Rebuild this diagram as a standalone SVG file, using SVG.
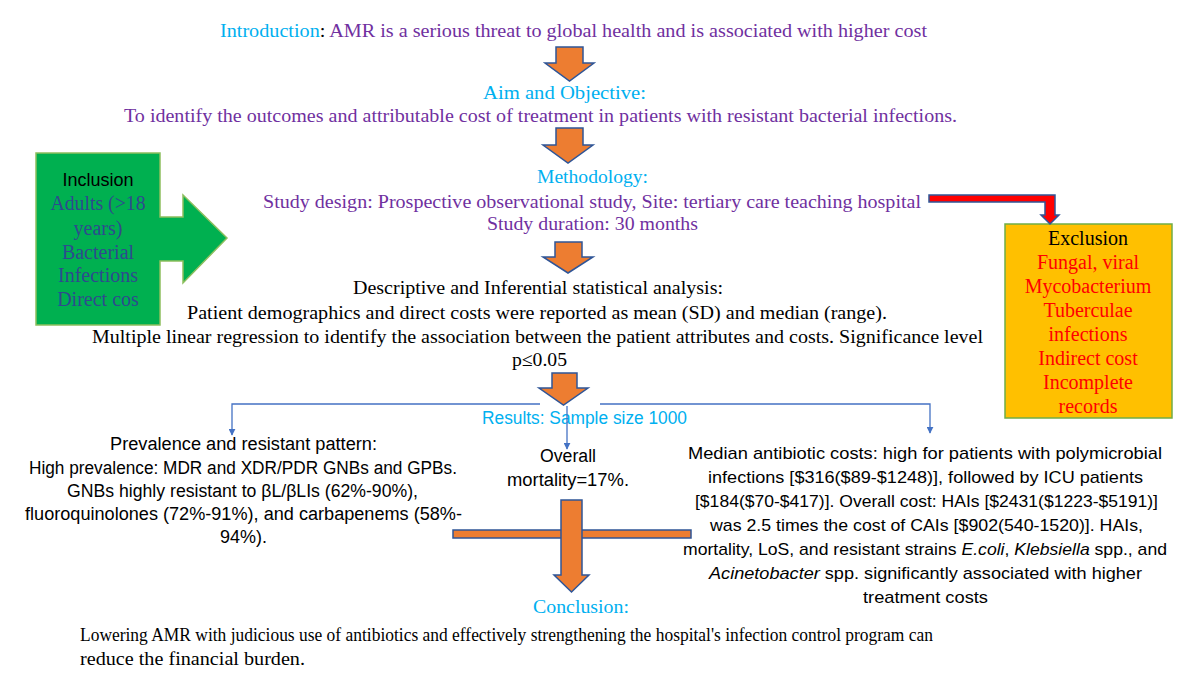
<svg xmlns="http://www.w3.org/2000/svg" width="1200" height="675" viewBox="0 0 1200 675">
<defs>
<style>
.serif{font-family:"Liberation Serif","Times New Roman",serif;}
.sans{font-family:"Liberation Sans",Arial,sans-serif;}
.cyan{fill:#00B0F0;}
.purple{fill:#7030A0;}
.black{fill:#000;}
.red{fill:#FF0000;}
.navy{fill:#2E4A8E;}
.oarrow{fill:#ED7D31;stroke:#2F5597;stroke-width:1.5;stroke-linejoin:miter;}
.conn{fill:none;stroke:#4472C4;stroke-width:1.3;}
</style>
<marker id="ah" viewBox="0 0 10 10" refX="9" refY="5" markerWidth="7" markerHeight="7" orient="auto" markerUnits="userSpaceOnUse">
<path d="M0,0 L10,5 L0,10 Z" fill="#4472C4"/>
</marker>
</defs>
<rect width="1200" height="675" fill="#fff"/>

<g id="introduction">
<text class="serif" font-size="18" x="220" y="37" textLength="707" lengthAdjust="spacingAndGlyphs"><tspan class="cyan">Introduction</tspan><tspan class="black">: </tspan><tspan class="purple"> AMR is a serious threat to global health and is associated with higher cost</tspan></text>
</g>

<g id="aim">
<text class="serif cyan" font-size="18" x="483" y="99" textLength="163" lengthAdjust="spacingAndGlyphs">Aim and  Objective:</text>
<text class="serif purple" font-size="18" x="124" y="122" textLength="833" lengthAdjust="spacingAndGlyphs">To identify the outcomes and attributable cost of treatment in patients with resistant bacterial infections.</text>
</g>

<g id="methodology">
<text class="serif cyan" font-size="19" x="537" y="183" textLength="111" lengthAdjust="spacingAndGlyphs">Methodology:</text>
<text class="serif purple" font-size="19" x="263" y="208" textLength="658" lengthAdjust="spacingAndGlyphs">Study design: Prospective observational study, Site: tertiary care teaching hospital</text>
<text class="serif purple" font-size="19" x="487" y="230" textLength="211" lengthAdjust="spacingAndGlyphs">Study duration: 30 months</text>
</g>

<g id="analysis">
<text class="serif black" font-size="19" x="353" y="294" textLength="370" lengthAdjust="spacingAndGlyphs">Descriptive and Inferential statistical analysis:</text>
<text class="serif black" font-size="19" x="187" y="319" textLength="700" lengthAdjust="spacingAndGlyphs">Patient demographics and direct costs were reported as mean (SD) and median (range).</text>
<text class="serif black" font-size="19" x="92" y="343" textLength="891" lengthAdjust="spacingAndGlyphs">Multiple linear regression to identify the association between the patient attributes and costs. Significance level</text>
<text class="serif black" font-size="19" x="512" y="366" textLength="55" lengthAdjust="spacingAndGlyphs">p≤0.05</text>
</g>

<g id="inclusion">
<path d="M36,153 H160 V217 H183 V195 L227,238 L183,283 V261 H160 V325 H36 Z" fill="#00B050" stroke="#8DBF5E" stroke-width="1.5"/>
<text class="sans black" font-size="18" x="98" y="186" text-anchor="middle">Inclusion</text>
<text class="serif navy" font-size="20" x="98" y="210" text-anchor="middle" textLength="95" lengthAdjust="spacingAndGlyphs">Adults (&gt;18</text>
<text class="serif navy" font-size="20" x="98" y="235" text-anchor="middle">years)</text>
<text class="serif navy" font-size="20" x="98" y="259" text-anchor="middle">Bacterial</text>
<text class="serif navy" font-size="20" x="98" y="282" text-anchor="middle">Infections</text>
<text class="serif navy" font-size="20" x="98" y="306" text-anchor="middle">Direct cos</text>
</g>

<g id="exclusion">
<rect x="1005" y="224" width="167" height="194" fill="#FFC000" stroke="#70AD47" stroke-width="1.5"/>
<text class="serif black" font-size="20" x="1088" y="245" text-anchor="middle">Exclusion</text>
<text class="serif red" font-size="20" x="1088" y="269" text-anchor="middle">Fungal, viral</text>
<text class="serif red" font-size="20" x="1088" y="293" text-anchor="middle">Mycobacterium</text>
<text class="serif red" font-size="20" x="1088" y="317" text-anchor="middle">Tuberculae</text>
<text class="serif red" font-size="20" x="1088" y="341" text-anchor="middle">infections</text>
<text class="serif red" font-size="20" x="1088" y="365" text-anchor="middle">Indirect cost</text>
<text class="serif red" font-size="20" x="1088" y="389" text-anchor="middle">Incomplete</text>
<text class="serif red" font-size="20" x="1088" y="413" text-anchor="middle">records</text>
</g>

<g id="results">
<text class="sans cyan" font-size="18" x="482" y="424" textLength="205" lengthAdjust="spacingAndGlyphs">Results: Sample size 1000</text>
</g>

<g id="prevalence">
<text class="sans black" font-size="18" x="110" y="450" textLength="267" lengthAdjust="spacingAndGlyphs">Prevalence and resistant pattern:</text>
<text class="sans black" font-size="18" x="29" y="474" textLength="428" lengthAdjust="spacingAndGlyphs">High prevalence: MDR and XDR/PDR GNBs and GPBs.</text>
<text class="sans black" font-size="18" x="67" y="497" textLength="351" lengthAdjust="spacingAndGlyphs">GNBs highly resistant to βL/βLIs (62%-90%),</text>
<text class="sans black" font-size="18" x="25" y="520" textLength="437" lengthAdjust="spacingAndGlyphs">fluoroquinolones (72%-91%), and carbapenems (58%-</text>
<text class="sans black" font-size="18" x="220" y="543" textLength="47" lengthAdjust="spacingAndGlyphs">94%).</text>
</g>

<g id="mortality">
<text class="sans black" font-size="18" x="540" y="462" textLength="56" lengthAdjust="spacingAndGlyphs">Overall</text>
<text class="sans black" font-size="18" x="507" y="486" textLength="122" lengthAdjust="spacingAndGlyphs">mortality=17%.</text>
</g>

<g id="costs">
<text class="sans black" font-size="17" x="688" y="459" textLength="474" lengthAdjust="spacingAndGlyphs">Median antibiotic costs: high for patients with polymicrobial</text>
<text class="sans black" font-size="17" x="708" y="483" textLength="435" lengthAdjust="spacingAndGlyphs">infections [$316($89-$1248)], followed by ICU patients</text>
<text class="sans black" font-size="17" x="695" y="507" textLength="463" lengthAdjust="spacingAndGlyphs">[$184($70-$417)]. Overall cost: HAIs [$2431($1223-$5191)]</text>
<text class="sans black" font-size="17" x="710" y="531" textLength="433" lengthAdjust="spacingAndGlyphs">was 2.5 times the cost of CAIs [$902(540-1520)]. HAIs,</text>
<text class="sans black" font-size="17" x="683" y="555" textLength="484" lengthAdjust="spacingAndGlyphs">mortality, LoS, and resistant strains <tspan font-style="italic">E.coli</tspan>, <tspan font-style="italic">Klebsiella</tspan> spp., and</text>
<text class="sans black" font-size="17" x="709" y="579" textLength="433" lengthAdjust="spacingAndGlyphs"><tspan font-style="italic">Acinetobacter</tspan> spp. significantly associated with higher</text>
<text class="sans black" font-size="17" x="863" y="603" textLength="125" lengthAdjust="spacingAndGlyphs">treatment costs</text>
</g>

<g id="conclusion">
<text class="serif cyan" font-size="19" x="533" y="613" textLength="96" lengthAdjust="spacingAndGlyphs">Conclusion:</text>
<text class="serif black" font-size="18" x="80" y="641" textLength="853" lengthAdjust="spacingAndGlyphs">Lowering AMR with judicious use of antibiotics and effectively strengthening the hospital's infection control program can</text>
<text class="serif black" font-size="18" x="80" y="665" textLength="225" lengthAdjust="spacingAndGlyphs">reduce the financial burden.</text>
</g>

<g id="connectors">
<path class="oarrow" d="M556,47 H583 V63 H594 L569.5,81 L545,63 H556 Z"/>
<path class="oarrow" d="M556,128 H583 V145 H593 L568,163 L543,145 H556 Z"/>
<path class="oarrow" d="M555,242 H582 V257 H593 L568,273 L543,257 H555 Z"/>
<path class="oarrow" d="M552,373 H577 V388 H588 L563.5,405 L539,388 H552 Z"/>
<rect class="oarrow" x="453" y="530" width="238" height="8"/>
<path class="oarrow" d="M561,500 H582 V575 H589 L571.5,592 L554,575 H561 Z"/>
<path d="M929,195 H1055 V215 H1059 L1050,224 L1041,215 H1045 V202 H929 Z" fill="#FF0000" stroke="#2F5597" stroke-width="1.5"/>
<path class="conn" d="M540,404 H232 V435" marker-end="url(#ah)"/>
<path class="conn" d="M600,404 H930 V433" marker-end="url(#ah)"/>
<path class="conn" d="M567,406 V449" marker-end="url(#ah)"/>
</g>
</svg>
